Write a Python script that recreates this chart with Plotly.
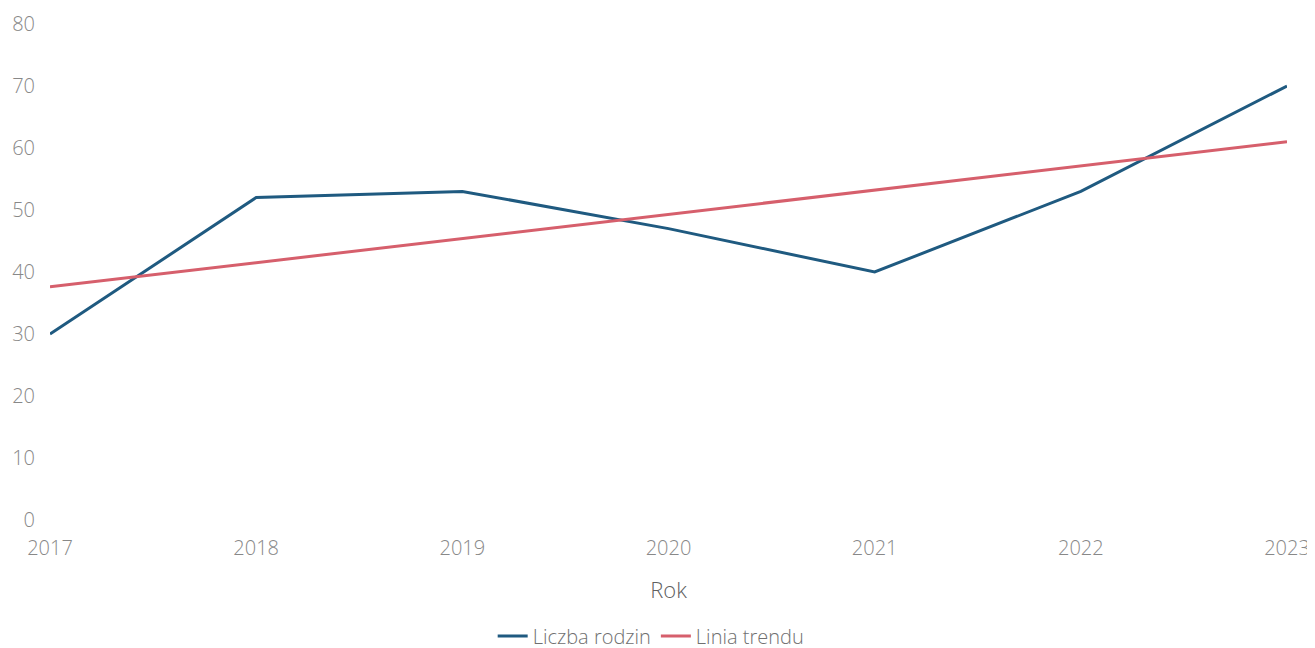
import plotly.graph_objects as go

years = [2017, 2018, 2019, 2020, 2021, 2022, 2023]
liczba_rodzin = [30, 52, 53, 47, 40, 53, 70]
linia_trendu = [37.6, 41.5, 45.4, 49.3, 53.2, 57.1, 61.0]
y_ticks = [0, 10, 20, 30, 40, 50, 60, 70, 80]

fig = go.Figure()
fig.add_trace(go.Scatter(x=years, y=liczba_rodzin, mode="lines", name="Liczba rodzin",
                         line=dict(color="#1f5a80", width=3)))
fig.add_trace(go.Scatter(x=years, y=linia_trendu, mode="lines", name="Linia trendu",
                         line=dict(color="#d65f6c", width=3)))

fig.update_layout(
    width=1307, height=648,
    margin=dict(l=42, r=28, t=16, b=136),
    plot_bgcolor="white", paper_bgcolor="white",
    font=dict(family="Open Sans", color="#888888", size=20, weight=300),
    xaxis=dict(range=[2017, 2023], tickvals=years, ticktext=[str(y) for y in years],
               showgrid=False, zeroline=False, showline=False, automargin=False,
               ticklabelstandoff=14,
               title=dict(text="Rok", font=dict(size=22, color="#606060"), standoff=22)),
    yaxis=dict(range=[0, 80], tickvals=y_ticks, showgrid=False, zeroline=False,
               showline=False, automargin=False, ticklabelstandoff=14),
    legend=dict(orientation="h", x=0.486, xanchor="center",
                yref="container", y=0.031, yanchor="middle",
                itemwidth=30, entrywidth=0, font=dict(size=20, color="#707070")),
    showlegend=True,
)

fig.write_html("out.html")
